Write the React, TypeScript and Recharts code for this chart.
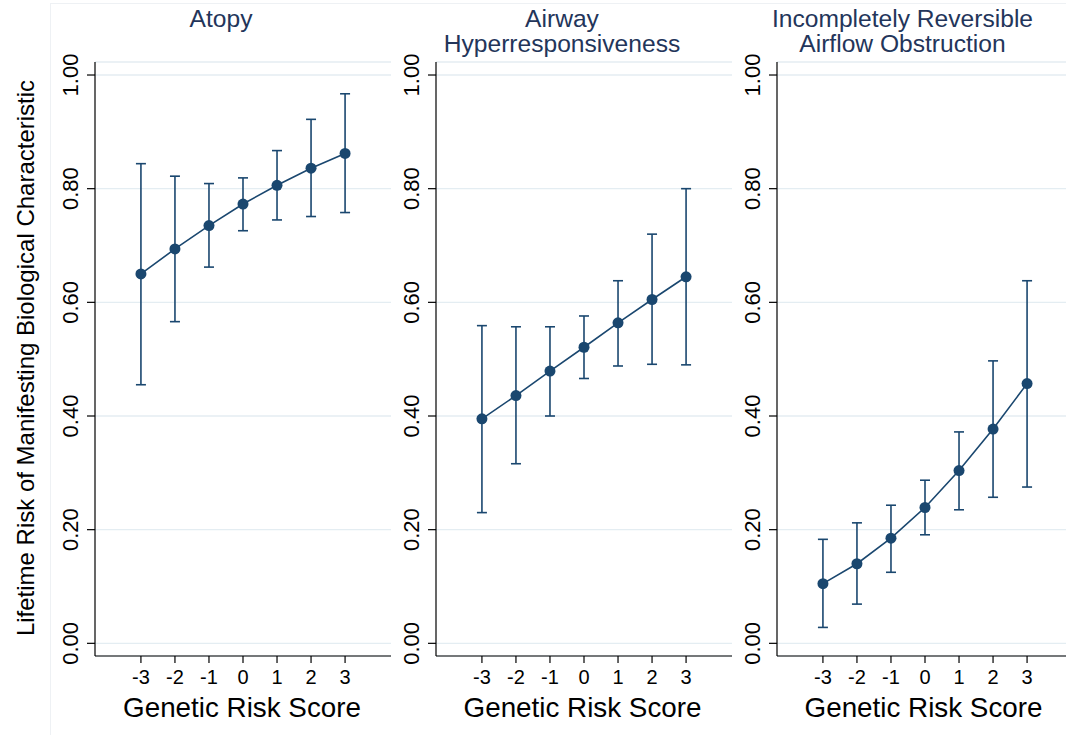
import React from 'react';
import { ComposedChart, Line, XAxis, YAxis, CartesianGrid, ErrorBar } from 'recharts';

const scores = [-3, -2, -1, 0, 1, 2, 3];
const yTicks = [0, 0.2, 0.4, 0.6, 0.8, 1.0];

const atopyMean = [0.650, 0.694, 0.735, 0.773, 0.806, 0.836, 0.862];
const atopyLow = [0.455, 0.566, 0.662, 0.726, 0.745, 0.751, 0.758];
const atopyHigh = [0.844, 0.822, 0.809, 0.819, 0.867, 0.922, 0.967];

const ahrMean = [0.395, 0.436, 0.479, 0.521, 0.564, 0.605, 0.645];
const ahrLow = [0.230, 0.316, 0.400, 0.466, 0.488, 0.491, 0.490];
const ahrHigh = [0.559, 0.557, 0.557, 0.576, 0.638, 0.720, 0.800];

const iraoMean = [0.105, 0.140, 0.185, 0.239, 0.304, 0.377, 0.457];
const iraoLow = [0.028, 0.069, 0.125, 0.191, 0.235, 0.257, 0.275];
const iraoHigh = [0.183, 0.212, 0.243, 0.287, 0.372, 0.497, 0.638];

const panelTitles = [['Atopy'], ['Airway', 'Hyperresponsiveness'], ['Incompletely Reversible', 'Airflow Obstruction']];
const xTitle = 'Genetic Risk Score';
const yTitle = 'Lifetime Risk of Manifesting Biological Characteristic';

const FONT = '"Liberation Sans", Arial, Helvetica, sans-serif';
const NAVY = '#1a476f';
const TITLE = '#23355a';

const PLOT_W = 296;
const panelLefts = [0, 340.5, 681.5];
const PLOT_OFFSET = 95;

const XTick = (props: any) => {
  const { x, y, payload } = props;
  return (
    <text x={x} y={y} dy={19} textAnchor="middle" fontSize={20} fontFamily={FONT} fill="#000">
      {payload.value}
    </text>
  );
};

const YTick = (props: any) => {
  const { x, y, payload } = props;
  return (
    <text
      x={x}
      y={y}
      transform={`rotate(-90 ${x} ${y})`}
      textAnchor="middle"
      fontSize={22}
      fontFamily={FONT}
      fill="#000"
    >
      {Number(payload.value).toFixed(2)}
    </text>
  );
};

function Panel({ left, mean, low, high }: { left: number; mean: number[]; low: number[]; high: number[] }) {
  const data = scores.map((s, i) => ({ x: s, y: mean[i], err: [mean[i] - low[i], high[i] - mean[i]] }));
  return (
    <div style={{ position: 'absolute', left, top: 0 }}>
      <ComposedChart width={PLOT_OFFSET + PLOT_W} height={735} data={data} margin={{ top: 62, right: 0, bottom: 0, left: 35 }}>
        <CartesianGrid horizontal vertical={false} stroke="#e4edf2" strokeWidth={1.3} />
        <XAxis
          type="number"
          dataKey="x"
          domain={[-4.35, 4.35]}
          ticks={scores}
          interval={0}
          allowDataOverflow
          height={79}
          tickSize={7}
          tickMargin={2}
          axisLine={{ stroke: '#000', strokeWidth: 1.2 }}
          tickLine={{ stroke: '#000', strokeWidth: 1.2 }}
          tick={<XTick />}
        />
        <YAxis
          type="number"
          domain={[-0.0223, 1.0229]}
          ticks={yTicks}
          interval={0}
          allowDataOverflow
          width={60}
          tickSize={8}
          tickMargin={9}
          axisLine={{ stroke: '#000', strokeWidth: 1.2 }}
          tickLine={{ stroke: '#000', strokeWidth: 1.2 }}
          tick={<YTick />}
        />
        <Line
          type="linear"
          dataKey="y"
          stroke={NAVY}
          strokeWidth={1.6}
          dot={{ r: 5.5, fill: NAVY, stroke: NAVY, strokeWidth: 0 }}
          activeDot={false}
          isAnimationActive={false}
        >
          <ErrorBar dataKey="err" direction="y" width={5} stroke={NAVY} strokeWidth={1.6} isAnimationActive={false} />
        </Line>
      </ComposedChart>
    </div>
  );
}

export default function App() {
  const plotCenters = panelLefts.map((l) => l + PLOT_OFFSET + PLOT_W / 2);
  const titleCenters = [221, 562, 902.5];
  return (
    <div style={{ position: 'absolute', left: 0, top: 0, width: 1066, height: 735, overflow: 'hidden', background: '#fff' }}>
      <svg width={1066} height={735} style={{ position: 'absolute', left: 0, top: 0 }}>
        <rect x={50.5} y={3.5} width={1100} height={800} fill="none" stroke="#eef1f4" strokeWidth={1} />
        {panelTitles.map((lines, p) =>
          lines.map((t, i) => (
            <text key={`${p}-${i}`} x={titleCenters[p]} y={27 + i * 25} textAnchor="middle" fontSize={24.6} fontFamily={FONT} fill={TITLE}>
              {t}
            </text>
          ))
        )}
        {plotCenters.map((c, p) => (
          <text key={`xt${p}`} x={c - 1} y={717} textAnchor="middle" fontSize={27.8} fontFamily={FONT} fill="#000">
            {xTitle}
          </text>
        ))}
        <text x={33.5} y={358} transform="rotate(-90 33.5 358)" textAnchor="middle" fontSize={24} fontFamily={FONT} fill="#000">
          {yTitle}
        </text>
      </svg>
      <Panel left={panelLefts[0]} mean={atopyMean} low={atopyLow} high={atopyHigh} />
      <Panel left={panelLefts[1]} mean={ahrMean} low={ahrLow} high={ahrHigh} />
      <Panel left={panelLefts[2]} mean={iraoMean} low={iraoLow} high={iraoHigh} />
    </div>
  );
}
